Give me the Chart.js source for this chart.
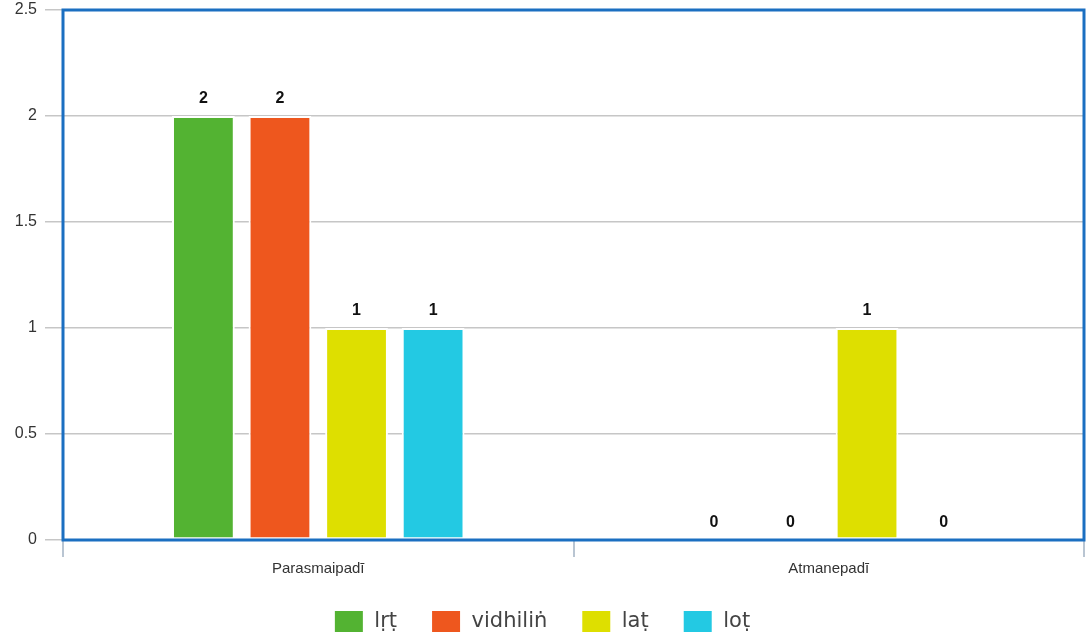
<!DOCTYPE html>
<html>
<head>
<meta charset="utf-8">
<script src="https://cdn.jsdelivr.net/npm/chart.js@4"></script>
<style>
  html, body { margin: 0; padding: 0; background: #fff; }
  #wrap { width: 1086px; height: 643px; }
</style>
</head>
<body>
<div id="wrap"><canvas id="grafico"></canvas></div>
<script>
// datos
const categorias = ['Parasmaipadī', 'Atmanepadī'];
const series = ['lṛṭ', 'vidhiliṅ', 'laṭ', 'loṭ'];
const valLrt = [2, 0];
const valVidhilin = [2, 0];
const valLat = [1, 1];
const valLot = [1, 0];
const colores = ['#53b332', '#ee571e', '#dedf00', '#23c9e3'];

// etiquetas de valor encima de cada barra
const etiquetas = {
  id: 'etiquetas',
  afterDatasetsDraw(chart) {
    const ctx = chart.ctx;
    ctx.save();
    ctx.font = 'bold 16px "Liberation Sans", Arial, sans-serif';
    ctx.fillStyle = '#111';
    ctx.textAlign = 'center';
    ctx.textBaseline = 'bottom';
    chart.data.datasets.forEach((ds, i) => {
      chart.getDatasetMeta(i).data.forEach((bar, j) => {
        ctx.fillText(ds.data[j], bar.x, bar.y - 9);
      });
    });
    ctx.restore();
  }
};

// marco azul del área de trazado
const marco = {
  id: 'marco',
  afterDatasetsDraw(chart) {
    const a = chart.chartArea;
    const ctx = chart.ctx;
    ctx.save();
    ctx.strokeStyle = '#1b6fc1';
    ctx.lineWidth = 3;
    ctx.strokeRect(a.left, a.top, a.right - a.left, a.bottom - a.top);
    ctx.restore();
  }
};

new Chart(document.getElementById('grafico'), {
  type: 'bar',
  data: {
    labels: categorias,
    datasets: [valLrt, valVidhilin, valLat, valLot].map((d, i) => ({
      label: series[i],
      data: d,
      backgroundColor: colores[i],
      borderColor: '#ffffff',
      borderWidth: 2,
      borderSkipped: false,
      categoryPercentage: 0.6,
      barPercentage: 0.82
    }))
  },
  options: {
    responsive: true,
    maintainAspectRatio: false,
    animation: false,
    layout: { padding: { top: 10, right: 2, left: 0, bottom: 0 } },
    plugins: {
      tooltip: { enabled: false },
      legend: {
        position: 'bottom',
        labels: {
          boxWidth: 30,
          boxHeight: 23,
          padding: 34,
          color: '#444',
          font: { family: '"DejaVu Sans", sans-serif', size: 21 }
        }
      }
    },
    scales: {
      x: {
        afterFit: s => { s.height = 36; },
        border: { display: false },
        grid: {
          offset: true,
          drawOnChartArea: false,
          drawTicks: true,
          tickLength: 17,
          color: '#b9c5d2',
          lineWidth: 2
        },
        ticks: {
          padding: 3,
          color: '#333',
          font: { family: '"Liberation Sans", Arial, sans-serif', size: 15 }
        }
      },
      y: {
        min: 0,
        max: 2.5,
        afterFit: s => { s.width = 63; s.paddingTop = 0; s.paddingBottom = 0; },
        border: { display: false },
        grid: {
          color: '#c6c6c6',
          lineWidth: 1.5,
          tickLength: 18
        },
        ticks: {
          stepSize: 0.5,
          padding: 8,
          color: '#333',
          font: { family: '"Liberation Sans", Arial, sans-serif', size: 16 },
          callback: v => String(v)
        }
      }
    }
  },
  plugins: [etiquetas, marco]
});
</script>
</body>
</html>
